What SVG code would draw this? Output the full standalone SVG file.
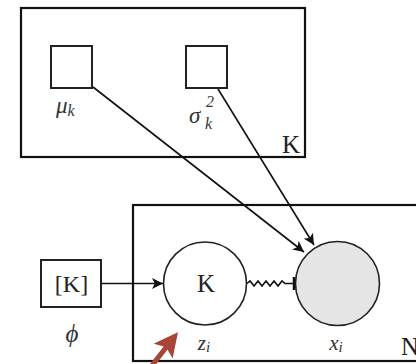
<svg xmlns="http://www.w3.org/2000/svg" width="416" height="364" viewBox="0 0 416 364">
<style>
.plate{fill:none;stroke:#111;stroke-width:2.2}
.box{fill:#fff;stroke:#222;stroke-width:2}
.circ{stroke:#222;stroke-width:1.6}
.edge{fill:none;stroke:#111;stroke-width:1.6}
.t{font-family:"Liberation Serif","DejaVu Serif",serif;fill:#222}
.m{font-family:"Liberation Serif","DejaVu Serif",serif;font-style:italic;fill:#333}
</style>
<defs>
<marker id="ah" viewBox="0 0 10 10" refX="10" refY="5" markerWidth="11" markerHeight="11" markerUnits="userSpaceOnUse" orient="auto">
<path d="M0,0 L10,5 L0,10 L2.5,5 Z" fill="#111"/>
</marker>
<marker id="rah" viewBox="0 0 10 10" refX="8" refY="5" markerWidth="24" markerHeight="24" markerUnits="userSpaceOnUse" orient="auto">
<path d="M0,0 L10,5 L0,10 L2,5 Z" fill="#a84438"/>
</marker>
</defs>
<g id="plate-K">
<rect class="plate" x="21" y="8" width="284" height="149"/>
<text class="t" x="291" y="153" font-size="25" text-anchor="middle">K</text>
</g>
<g id="plate-N">
<rect class="plate" x="133" y="205" width="300" height="156"/>
<text class="t" x="401" y="355" font-size="25">N</text>
</g>
<g id="mu">
<rect class="box" x="51" y="46" width="41" height="42"/>
<text class="m" x="56" y="113" font-size="23">μ<tspan font-size="16" dy="3">k</tspan></text>
</g>
<g id="sigma">
<rect class="box" x="186" y="46" width="41" height="42"/>
<text class="m" x="189" y="123" font-size="23">σ</text>
<text class="m" x="206" y="107" font-size="16">2</text>
<text class="m" x="205" y="129" font-size="16">k</text>
</g>
<g id="phi">
<rect class="box" x="41" y="260" width="60" height="47"/>
<text class="t" x="71.5" y="292" font-size="24" text-anchor="middle">[K]</text>
<text class="m" x="72" y="342" font-size="25" text-anchor="middle">ϕ</text>
</g>
<g id="z">
<circle class="circ" cx="205" cy="283.5" r="41.5" fill="#fff"/>
<text class="t" x="206" y="292" font-size="25" text-anchor="middle">K</text>
<text class="m" x="204" y="350" font-size="21" text-anchor="middle">z<tspan font-size="15" dy="2">i</tspan></text>
</g>
<g id="x">
<circle class="circ" cx="337.5" cy="283.5" r="42" fill="#e5e5e5"/>
<text class="m" x="336" y="350" font-size="21" text-anchor="middle">x<tspan font-size="15" dy="2">i</tspan></text>
</g>
<g id="connectors">
<line class="edge" x1="101" y1="283.5" x2="163" y2="283.5" marker-end="url(#ah)"/>
<line class="edge" x1="93" y1="87" x2="304" y2="252" marker-end="url(#ah)"/>
<line class="edge" x1="218" y1="89" x2="314" y2="245" marker-end="url(#ah)"/>
<path class="edge" d="M247,283.5 L250,281 L254,286 L258,281 L262,286 L266,281 L270,286 L274,281 L278,286 L282,281 L285,283.5 L294,283.5"/>
<line x1="294" y1="277" x2="294" y2="290" stroke="#111" stroke-width="2.5"/>
<line x1="150" y1="368" x2="175" y2="336" stroke="#a84438" stroke-width="5" marker-end="url(#rah)"/>
</g>
</svg>
